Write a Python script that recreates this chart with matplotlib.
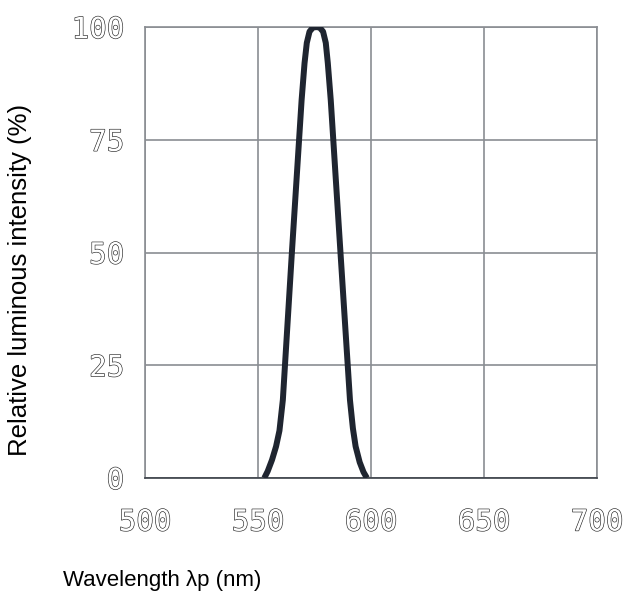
import numpy as np
import matplotlib.pyplot as plt
import matplotlib.patheffects as pe

# 光谱曲线数据
wavelength = [552.8, 554.3, 556.2, 558.0, 559.5, 561.0, 565.0, 569.3, 570.6,
              571.6, 572.8, 574.3, 575.8, 577.3, 578.8, 580.0, 580.9, 582.2,
              586.5, 590.7, 592.0, 593.2, 595.0, 596.7, 598.2]
intensity = [0, 1.5, 4, 7, 10.5, 17.3, 50, 83.8, 92,
             96.5, 99.0, 99.9, 100, 99.9, 99.0, 96.5, 92, 83.8,
             50, 17.3, 11, 7, 3.5, 1.3, 0]

x_ticks = [500, 550, 600, 650, 700]
y_ticks = [0, 25, 50, 75, 100]

fig = plt.figure(figsize=(6.29, 6.02), dpi=100)
ax = fig.add_axes([0.2305, 0.206, 0.7186, 0.749])

ax.plot(wavelength, intensity, color='#1f2530', linewidth=4.3,
        solid_capstyle='butt', solid_joinstyle='round', zorder=3)

ax.set_xlim(500, 700)
ax.set_ylim(0, 100)
ax.set_xticks(x_ticks)
ax.set_yticks(y_ticks)
ax.grid(True, color='#8a8d92', linewidth=1.2)
for s in ax.spines.values():
    s.set_color('#8a8d92')
    s.set_linewidth(1.2)
ax.spines['bottom'].set_color('#3a3f47')

# 刻度文字: 空心字效果
outline = [pe.withStroke(linewidth=0.9, foreground='#262626')]
tick_font = dict(family='DejaVu Sans Mono', fontsize=21, color='white')
ax.set_xticklabels([str(v) for v in x_ticks], **tick_font)
ax.set_yticklabels([str(v) for v in y_ticks], **tick_font)
for t in ax.get_xticklabels() + ax.get_yticklabels():
    t.set_path_effects(outline)
ax.tick_params(axis='both', length=0)
ax.tick_params(axis='x', pad=22)
ax.tick_params(axis='y', pad=15)

fig.text(0.032, 0.535, 'Relative luminous intensity (%)', rotation=90,
         ha='center', va='center', family='Liberation Sans', fontsize=18.5)
fig.text(0.1, 0.035, 'Wavelength λp (nm)', ha='left', va='center',
         family='Liberation Sans', fontsize=16)

plt.savefig('out.png', dpi=100)
plt.close()
